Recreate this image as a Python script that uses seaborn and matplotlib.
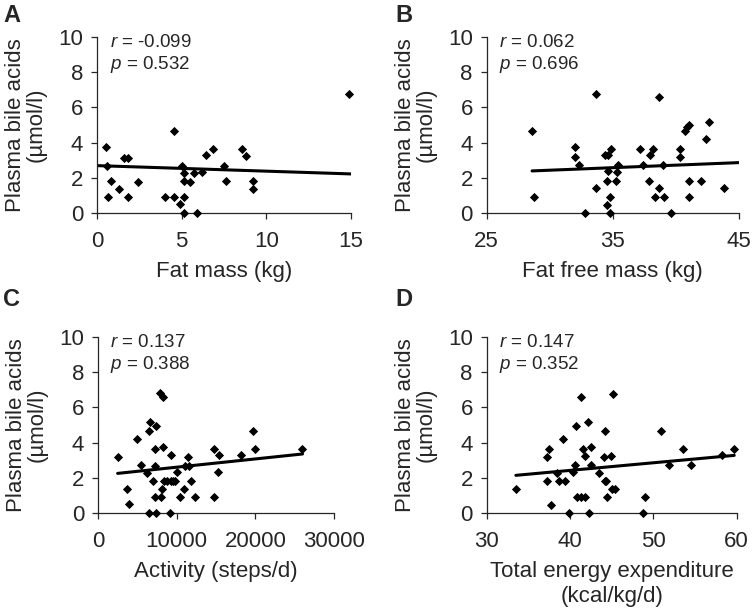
import matplotlib.pyplot as plt
import seaborn as sns

# A: fat mass
fat_mass = [14.9, 0.51, 0.59, 0.83, 0.63, 1.3, 1.61, 1.85, 1.81, 2.44, 4.02, 4.53, 4.53, 4.92,
            5.0, 5.12, 5.12, 5.16, 5.16, 5.51, 5.75, 5.9, 6.22, 6.42, 6.85, 7.52, 7.6, 8.58, 8.78,
            9.21, 9.21]
bile_fat = [6.75, 3.74, 2.7, 1.85, 0.94, 1.4, 3.15, 3.15, 0.94, 1.79, 0.94, 4.68, 0.94, 0.53,
            2.7, 2.3, 1.85, 0.9, 0.0, 1.79, 2.26, 0.0, 2.34, 3.28, 3.62, 2.7, 1.85, 3.66, 3.25,
            1.81, 1.4]

# B: fat free mass
ffm = [28.6, 28.76, 32.04, 32.04, 32.35, 32.78, 33.68, 33.68, 34.42, 34.63, 34.84, 34.63, 34.58,
       34.79, 34.58, 34.79, 35.42, 35.37, 35.26, 37.17, 37.38, 37.96, 38.17, 37.91, 38.7, 38.7,
       38.39, 39.07, 38.97, 39.6, 40.34, 40.34, 40.71, 40.93, 41.08, 41.03, 41.03, 41.98, 42.62,
       42.41, 43.84]
bile_ffm = [4.68, 0.94, 3.77, 3.17, 2.72, 0.0, 6.75, 1.43, 3.28, 3.28, 3.62, 2.38, 1.85, 0.94,
            0.49, 0.0, 2.75, 2.34, 1.81, 3.66, 2.75, 3.28, 3.62, 1.85, 6.57, 1.43, 0.94, 0.94,
            2.75, 0.0, 3.66, 3.21, 4.68, 4.87, 5.02, 1.85, 0.94, 1.85, 5.17, 4.23, 1.43]

# C: activity
steps = [2542, 3729, 3983, 5000, 5424, 6271, 6525, 6610, 6525, 6949, 7203, 7288, 7373, 7288, 7373,
         7881, 8305, 8305, 8051, 8136, 8390, 8814, 9237, 9237, 9153, 9576, 9831, 10085, 10424,
         10932, 11102, 11441, 11610, 11780, 12288, 14746, 14746, 15424, 15254, 18220, 19746,
         19915, 25932]
bile_steps = [3.17, 1.4, 0.53, 4.23, 2.72, 2.26, 4.68, 5.17, 0.0, 1.85, 2.68, 3.62, 4.94, 0.94,
              0.0, 6.83, 6.57, 3.74, 0.94, 1.4, 1.81, 1.85, 3.28, 1.81, 0.0, 1.81, 1.85, 2.34,
              0.94, 1.4, 2.68, 3.17, 2.68, 1.81, 0.94, 3.62, 0.94, 3.28, 2.34, 3.28, 4.68, 3.62,
              3.62]

# D: total energy expenditure
tee = [33.52, 37.28, 37.52, 37.28, 37.76, 38.4, 38.72, 39.2, 39.36, 39.92, 40.4, 40.56, 40.72,
       40.8, 41.28, 41.36, 41.6, 41.76, 41.76, 42.16, 42.24, 42.48, 42.56, 43.52, 44.08, 44.16,
       44.16, 44.32, 44.4, 44.88, 45.12, 45.04, 45.36, 48.8, 49.04, 50.96, 51.84, 53.6, 54.48,
       58.24, 59.68]
bile_tee = [1.4, 3.17, 3.62, 1.85, 0.49, 2.26, 1.85, 4.23, 1.81, 0.0, 2.34, 2.72, 4.94, 0.94,
            0.94, 6.57, 3.62, 3.25, 0.94, 5.17, 0.0, 3.74, 2.72, 2.3, 3.17, 4.68, 1.85, 1.81,
            0.94, 3.25, 6.75, 1.4, 1.4, 0.0, 0.94, 4.68, 2.72, 3.62, 2.72, 3.28, 3.62]

# trend lines (start/end)
trend_x = [[0, 15], [28.6, 45], [2500, 26000], [33.5, 59.7]]
trend_y = [[2.7, 2.23], [2.4, 2.87], [2.26, 3.36], [2.15, 3.28]]

r_vals = ['-0.099', '0.062', '0.137', '0.147']
p_vals = ['0.532', '0.696', '0.388', '0.352']
letters = ['A', 'B', 'C', 'D']
xlabels = ['Fat mass (kg)', 'Fat free mass (kg)', 'Activity (steps/d)',
           'Total energy expenditure\n(kcal/kg/d)']

sns.set_style("ticks")
plt.rcParams['font.family'] = ['Liberation Sans', 'DejaVu Sans']
plt.rcParams['mathtext.fontset'] = 'custom'
plt.rcParams['mathtext.it'] = 'Liberation Sans:italic'
plt.rcParams['mathtext.rm'] = 'Liberation Sans'

fig = plt.figure(figsize=(7.56, 6.14), dpi=100)

panels = [
    (fat_mass, bile_fat, [0.1283, 0.6526, 0.336, 0.2876], (0, 15), [0, 5, 10, 15]),
    (ffm, bile_ffm, [0.6438, 0.6526, 0.3333, 0.2876], (25, 45), [25, 35, 45]),
    (steps, bile_steps, [0.1296, 0.164, 0.3122, 0.2876], (0, 30000), [0, 10000, 20000, 30000]),
    (tee, bile_tee, [0.6438, 0.164, 0.3307, 0.2876], (30, 60), [30, 40, 50, 60]),
]
letter_pos = [(12, 15), (404, 15), (12, 300), (404, 300)]

for i, (x, y, rect, xlim, xticks) in enumerate(panels):
    ax = fig.add_axes(rect)
    sns.scatterplot(x=x, y=y, ax=ax, marker='D', color='black', s=22,
                    linewidth=0, clip_on=False, zorder=3)
    sns.lineplot(x=trend_x[i], y=trend_y[i], ax=ax, color='black', lw=2.2)
    ax.set_xlim(*xlim)
    ax.set_ylim(0, 10)
    ax.set_xticks(xticks)
    ax.set_yticks([0, 2, 4, 6, 8, 10])
    sns.despine(ax=ax)
    for s in ['left', 'bottom']:
        ax.spines[s].set_linewidth(0.9)
    ax.tick_params(axis='y', length=4, width=0.9, labelsize=16, pad=6)
    ax.tick_params(axis='x', length=4, width=0.9, labelsize=16, pad=9)
    ax.set_ylabel('Plasma bile acids\n(µmol/l)', fontsize=16, labelpad=8, linespacing=1.0)
    ax.set_xlabel(xlabels[i], fontsize=16, labelpad=6, linespacing=1.25)
    ax.text(0.05, 0.97, r'$r$ = ' + r_vals[i], transform=ax.transAxes,
            fontsize=13.5, va='center', ha='left')
    ax.text(0.05, 0.84, r'$p$ = ' + p_vals[i], transform=ax.transAxes,
            fontsize=13.5, va='center', ha='left')
    lx, ly = letter_pos[i]
    fig.text(lx / 756, 1 - ly / 614, letters[i], fontsize=17, fontweight='bold',
             ha='center', va='center')

fig.savefig('out.png', dpi=100)
